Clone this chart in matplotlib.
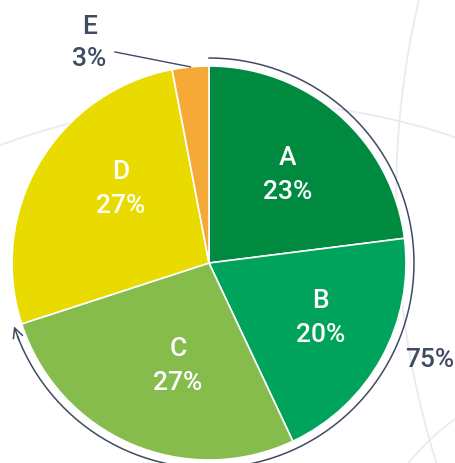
import numpy as np
import matplotlib.pyplot as plt
from matplotlib.patches import Circle

# data
labels = ["A", "B", "C", "D", "E"]
shares = [23, 20, 27, 27, 3]
colors = ["#008A40", "#00A35B", "#85BC4B", "#E9DA00", "#F5A937"]
bracket_label = "75%"
n_bracket = 3  # slices A..C covered by the outer arrow

plt.rcParams['font.family'] = ['Roboto', 'DejaVu Sans']
plt.rcParams['font.weight'] = 'medium'
ink = "#3E4B63"

W, H = 456, 464
fig = plt.figure(figsize=(W / 100, H / 100), dpi=100)
ax = fig.add_axes([0, 0, 1, 1])

# faint decorative rings in the background
for c, r in [((1277, 264), 881), ((239, -320), 681), ((600, -156), 247)]:
    ax.add_patch(Circle(c, r, fill=False, edgecolor="#E9EBF0", lw=1.3, zorder=0))

cx, cy, R = 209, 200, 197
wedges, _ = ax.pie(shares, colors=colors, startangle=90, counterclock=False,
                   center=(cx, cy), radius=R,
                   wedgeprops=dict(edgecolor="white", linewidth=1.2))

# in-slice labels (small nudges to follow the reference)
nudge = {"A": (0, 0), "B": (8, 3), "C": (16, 6), "D": (13, 15)}
for w, lab, val in zip(wedges, labels, shares):
    mid = np.deg2rad((w.theta1 + w.theta2) / 2)
    if lab in nudge:
        dx, dy = nudge[lab]
        x = cx + 0.6 * R * np.cos(mid) + dx
        y = cy + 0.6 * R * np.sin(mid) + dy
        ax.text(x, y + 17, lab, color="white", fontsize=19,
                ha="center", va="center")
        ax.text(x, y - 17, f"{val}%", color="white", fontsize=19,
                ha="center", va="center")
    else:
        # small slice: label outside with a leader line
        ex, ey = cx + R * np.cos(mid), cy + R * np.sin(mid)
        ax.plot([115, ex], [411, ey], color=ink, lw=1.0, zorder=3)
        ax.text(90, 437, lab, color=ink, fontsize=19, ha="center", va="center")
        ax.text(89, 405, f"{val}%", color=ink, fontsize=19, ha="center", va="center")

# outer arc with arrow spanning the first slices
Ra = 205
end = 90 - 360 * sum(shares[:n_bracket]) / sum(shares)
th = np.deg2rad(np.linspace(90, end + 3, 200))
ax.plot(cx + Ra * np.cos(th), cy + Ra * np.sin(th), color=ink, lw=1.1)
t0, t1 = np.deg2rad(end + 4), np.deg2rad(end)
ax.annotate("", xy=(cx + Ra * np.cos(t1), cy + Ra * np.sin(t1)),
            xytext=(cx + Ra * np.cos(t0), cy + Ra * np.sin(t0)),
            arrowprops=dict(arrowstyle="->,head_length=0.7,head_width=0.35",
                            color=ink, lw=1.1, shrinkA=0, shrinkB=0))
ax.text(430, 104, bracket_label, color=ink, fontsize=19, ha="center", va="center")

ax.set_xlim(0, W)
ax.set_ylim(0, H)
ax.set_aspect("equal")
ax.set_axis_off()
fig.savefig("out.png", dpi=100)
